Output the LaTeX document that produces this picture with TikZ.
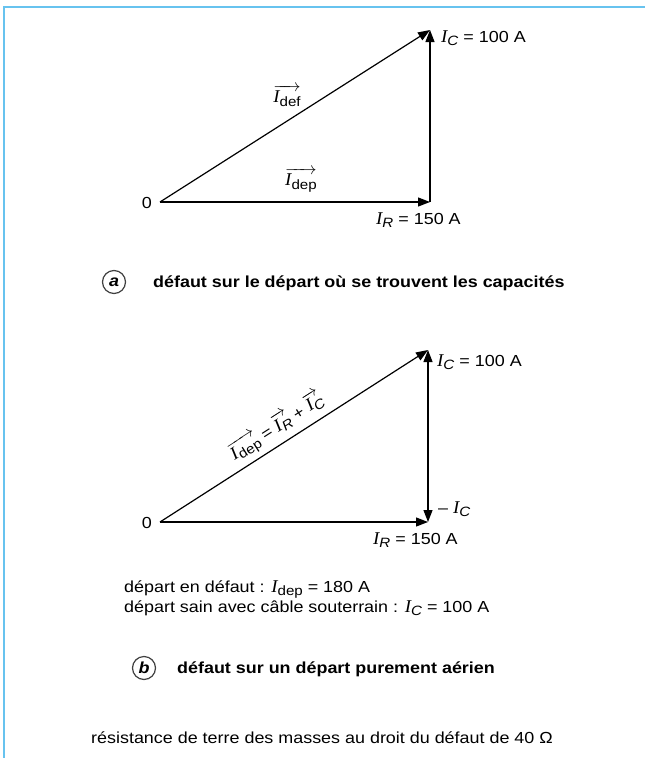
\documentclass[tikz,border=0pt]{standalone}
\usepackage{fontspec}
\setmainfont{Liberation Sans}[FakeStretch=1.12]
\newfontfamily\serifI{Liberation Serif}[FakeStretch=1.05]
\usetikzlibrary{arrows.meta}
\newcommand{\Isub}[1]{{\serifI\itshape\fontsize{18}{20}\selectfont I}\raisebox{-0.45ex}{\fontsize{13.5}{15}\selectfont #1}}
\newcommand{\VI}[1]{$\overrightarrow{\hbox{\Isub{#1}}}$}
\begin{document}
\begin{tikzpicture}[x=1pt,y=-1pt,
  tip/.tip={Triangle[length=12pt,width=9pt]},
  vec/.style={line width=1.2pt,-tip},
  dvec/.style={line width=1.2pt,tip-tip},
  lbl/.style={font=\fontsize{16}{18}\selectfont,inner sep=0pt},
  captxt/.style={font=\fontsize{16}{18}\selectfont\bfseries,inner sep=0pt,anchor=base west},
  circ/.style={circle,draw=black!75,line width=1.2pt,minimum size=23pt,inner sep=0pt,font=\fontsize{16}{18}\selectfont\bfseries\itshape}]
\useasboundingbox (0,0) rectangle (645,758);
\fill[white] (0,0) rectangle (645,758);
\draw[cyan!90!blue!60,line width=1.2pt] (4,758) -- (4,7) -- (645,7);
% diagram a
\coordinate (O1) at (160,202);
\coordinate (R1) at (430,202);
\coordinate (C1) at (430,30);
\node[lbl,anchor=base east] (z1) at (152,208) {0};
\draw[vec] (O1) -- (R1);
\draw[vec] (R1) -- (C1);
\draw[vec] (O1) -- (C1);
\node[lbl,anchor=base west] (ic1) at (441,42) {\Isub{\textit{C}} = 100 A};
\node[lbl,anchor=base west] (ir1) at (376,224) {\Isub{\textit{R}} = 150 A};
\node[lbl] (idef) at (287,96) {\VI{def}};
\node[lbl] (idep1) at (301,180) {\VI{dep}};
\node[circ] (ca) at (114,282) {a};
\node[captxt] (capa) at (153,287) {défaut sur le départ où se trouvent les capacités};
% diagram b
\coordinate (O2) at (160,522);
\coordinate (R2) at (428,522);
\coordinate (C2) at (428,350);
\node[lbl,anchor=base east] (z2) at (152,528) {0};
\draw[vec] (O2) -- (R2);
\draw[vec] (O2) -- (C2);
\draw[dvec] (R2) -- (C2);
\node[lbl,anchor=base west] (ic2) at (437,366) {\Isub{\textit{C}} = 100 A};
\node[lbl,anchor=base west] (mic) at (438,513) {– \Isub{\textit{C}}};
\node[lbl,anchor=base west] (ir2) at (373,544) {\Isub{\textit{R}} = 150 A};
\path (O2) -- (C2) node[lbl,pos=0.47,sloped,above=5pt] (sum) {\VI{dep} = \VI{\textit{R}} + \VI{\textit{C}}};
\node[lbl,anchor=base west] (t1) at (124,592) {départ en défaut : \Isub{dep} = 180 A};
\node[lbl,anchor=base west] (t2) at (124,612) {départ sain avec câble souterrain : \Isub{\textit{C}} = 100 A};
\node[circ] (cb) at (144,668) {b};
\node[captxt] (capb) at (177,673) {défaut sur un départ purement aérien};
\node[lbl,anchor=base west] (bot) at (91,743) {résistance de terre des masses au droit du défaut de 40 Ω};
\end{tikzpicture}
\end{document}
